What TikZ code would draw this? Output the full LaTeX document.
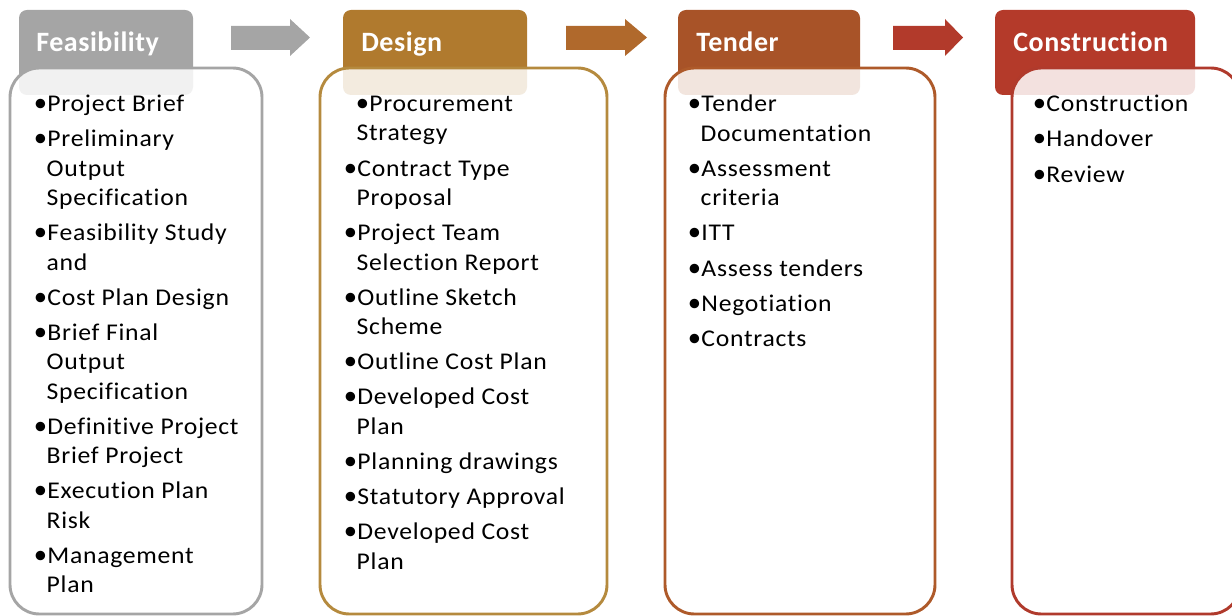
\documentclass[tikz,border=0pt]{standalone}
\usepackage{fontspec}
\setmainfont{Carlito}[RawFeature={-liga;-calt;-ccmp}]
\newfontfamily\bodyfont{Carlito}[FakeStretch=1.07,LetterSpace=3,RawFeature={-liga;-calt;-ccmp}]
\newfontfamily\headfont{Carlito}[LetterSpace=2,RawFeature={-liga;-calt;-ccmp}]
\newfontfamily\bulfont{Carlito}
\definecolor{cgray}{HTML}{A5A5A5}
\definecolor{cdes}{HTML}{B07A2E}
\definecolor{cdesb}{HTML}{B58A3E}
\definecolor{cten}{HTML}{A85328}
\definecolor{ctenb}{HTML}{AE5A2A}
\definecolor{ccon}{HTML}{B43A2A}
\definecolor{cconb}{HTML}{B03A2C}
\definecolor{carr2}{HTML}{B0692C}
\definecolor{carr3}{HTML}{B23A2B}
\newcommand{\bul}{\hspace*{-1.8pt}\makebox[10.2pt][l]{\bulfont\fontsize{20}{22}\selectfont•}}
\newcommand{\ind}{\hspace*{7.8pt}}
\newcommand{\gp}{\\[4.4pt]}
\begin{document}
\begin{tikzpicture}[x=0.75pt,y=-0.75pt,
  hdr/.style={rounded corners=6pt},
  bodybox/.style={line width=2.2pt,rounded corners=22pt,fill=white,fill opacity=0.85},
  htext/.style={anchor=base west,inner sep=0,text=white,font=\headfont\fontsize{21}{25}\selectfont\bfseries},
  list/.style={anchor=north west,inner sep=0,align=left,font=\bodyfont\fontsize{18}{22}\selectfont}]
\useasboundingbox (0,0) rectangle (1232,616);
% headers
\fill[cgray,hdr] (19,10) rectangle (193,95);
\fill[cdes,hdr] (343,10) rectangle (527,95);
\fill[cten,hdr] (678,10) rectangle (860,95);
\fill[ccon,hdr] (995,10) rectangle (1195,95);
% bodies
\path[bodybox,draw=cgray] (10,68) rectangle (262,614);
\path[bodybox,draw=cdesb] (320,68) rectangle (607,614);
\path[bodybox,draw=ctenb] (665,68) rectangle (935,614);
\path[bodybox,draw=cconb] (1012,68) rectangle (1240,614);
% header texts
\node[htext] (hf) at (36,52) {Feasibility};
\node[htext] (hd) at (361,52) {Design};
\node[htext] (ht) at (696,52) {Tender};
\node[htext] (hc) at (1013,52) {Construction};
% arrows
\fill[cgray] (231,26) -- (290,26) -- (290,19) -- (310,37.5) -- (290,56) -- (290,50) -- (231,50) -- cycle;
\fill[carr2] (566,26) -- (625,26) -- (625,19) -- (647,37.5) -- (625,56) -- (625,50) -- (566,50) -- cycle;
\fill[carr3] (893,26) -- (945,26) -- (945,19) -- (963,37.5) -- (945,56) -- (945,50) -- (893,50) -- cycle;
% lists
\node[list] (lf) at (36,95) {\bul Project Brief\gp
\bul Preliminary\\ \ind Output\\ \ind Specification\gp
\bul Feasibility Study\\ \ind and\gp
\bul Cost Plan Design\gp
\bul Brief Final\\ \ind Output\\ \ind Specification\gp
\bul Definitive Project\\ \ind Brief Project\gp
\bul Execution Plan\\ \ind Risk\gp
\bul Management\\ \ind Plan};
\node[list] (ld) at (346,96) {\hspace*{9pt}\bul Procurement\\ \ind Strategy\gp
\bul Contract Type\\ \ind Proposal\gp
\bul Project Team\\ \ind Selection Report\gp
\bul Outline Sketch\\ \ind Scheme\gp
\bul Outline Cost Plan\gp
\bul Developed Cost\\ \ind Plan\gp
\bul Planning drawings\gp
\bul Statutory Approval\gp
\bul Developed Cost\\ \ind Plan};
\node[list] (lt) at (690,95) {\bul Tender\\ \ind Documentation\gp
\bul Assessment\\ \ind criteria\gp
\bul ITT\gp
\bul Assess tenders\gp
\bul Negotiation\gp
\bul Contracts};
\node[list] (lc) at (1035,95) {\bul Construction\gp
\bul Handover\gp
\bul Review};
\end{tikzpicture}
\end{document}
